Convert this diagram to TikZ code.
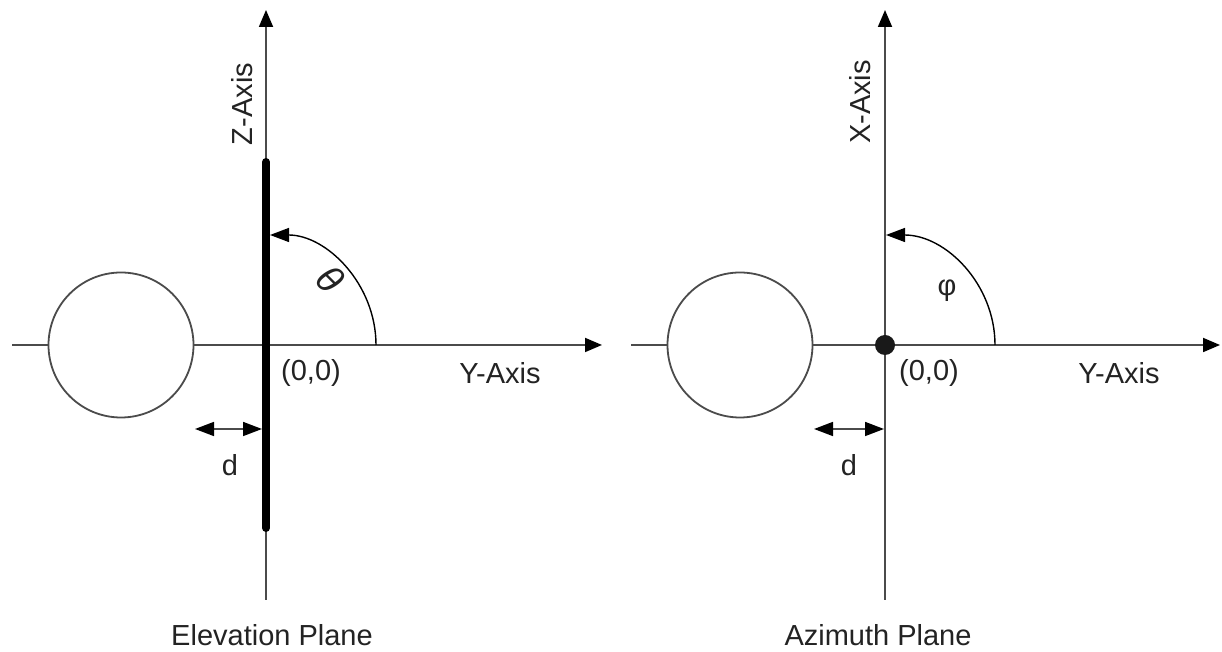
\documentclass[tikz,border=0pt]{standalone}
\usepackage{fontspec}
\setmainfont{Liberation Sans}
\usetikzlibrary{arrows.meta}
\definecolor{axisgray}{RGB}{75,75,75}
\definecolor{txtgray}{RGB}{35,35,35}
\tikzset{
  axis/.style={draw=axisgray, line width=1.8pt, -{Triangle[length=17pt,width=14pt,color=black]}},
  plainaxis/.style={draw=axisgray, line width=1.8pt},
  ring/.style={draw=axisgray, line width=1.8pt, circle, minimum size=145pt, inner sep=0pt},
  angarc/.style={draw=black, line width=1.4pt, -{Triangle[length=19pt,width=14pt]}},
  darrow/.style={draw=axisgray, line width=1.6pt, {Triangle[length=19pt,width=14pt,color=black]}-{Triangle[length=19pt,width=14pt,color=black]}},
  lbl/.style={text=txtgray, font=\fontsize{29}{34}\selectfont, inner sep=0pt},
  bar/.style={draw=black, line width=8pt, line cap=round},
}
\begin{document}
\begin{tikzpicture}[x=1pt,y=1pt]
\useasboundingbox (0,0) rectangle (1222,652);
% ---------- Elevation plane ----------
\coordinate (O1) at (266,307);
\coordinate (L1) at (12,307);
\coordinate (R1) at (602,307);
\coordinate (T1) at (266,642);
\coordinate (B1) at (266,52);
\coordinate (BarT) at (266,490);
\coordinate (BarB) at (266,124);
\coordinate (DL1) at (195,223);
\coordinate (DR1) at (262,223);
\node[ring] (C1) at (121,307) {};
\draw[plainaxis] (L1) -- (C1.west);
\draw[axis] (C1.east) -- (R1);
\draw[axis] (B1) -- (T1);
\draw[bar] (BarB) -- (BarT);
\draw[angarc, shorten >=4pt] ([shift={(0:110)}]O1) arc[start angle=0, end angle=90, radius=110];
\draw[darrow] (DL1) -- (DR1);
\node[lbl, rotate=-45, font=\fontsize{38}{40}\selectfont] (theta) at (330,373) {\itshape θ};
\node[lbl] (o1) at (311,279) {(0,0)};
\node[lbl] (y1) at (500,279) {Y-Axis};
\node[lbl, rotate=90] (z1) at (242,548) {Z-Axis};
\node[lbl] (d1) at (230,187) {d};
\node[lbl] (ep) at (272,17) {Elevation Plane};
% ---------- Azimuth plane ----------
\coordinate (O2) at (885,307);
\coordinate (L2) at (631,307);
\coordinate (R2) at (1220,307);
\coordinate (T2) at (885,642);
\coordinate (B2) at (885,52);
\coordinate (DL2) at (814,223);
\coordinate (DR2) at (884,223);
\node[ring] (C2) at (740,307) {};
\draw[plainaxis] (L2) -- (C2.west);
\draw[axis] (C2.east) -- (R2);
\draw[axis] (B2) -- (T2);
\fill[black!90] (O2) circle[radius=10];
\draw[angarc, shorten >=1pt] ([shift={(0:110)}]O2) arc[start angle=0, end angle=90, radius=110];
\draw[darrow] (DL2) -- (DR2);
\node[lbl] (phi) at (947,361) {φ};
\node[lbl] (o2) at (929,279) {(0,0)};
\node[lbl] (y2) at (1119,279) {Y-Axis};
\node[lbl, rotate=90] (x2) at (860,550) {X-Axis};
\node[lbl] (d2) at (849,187) {d};
\node[lbl] (ap) at (878,17) {Azimuth Plane};
\end{tikzpicture}
\end{document}
